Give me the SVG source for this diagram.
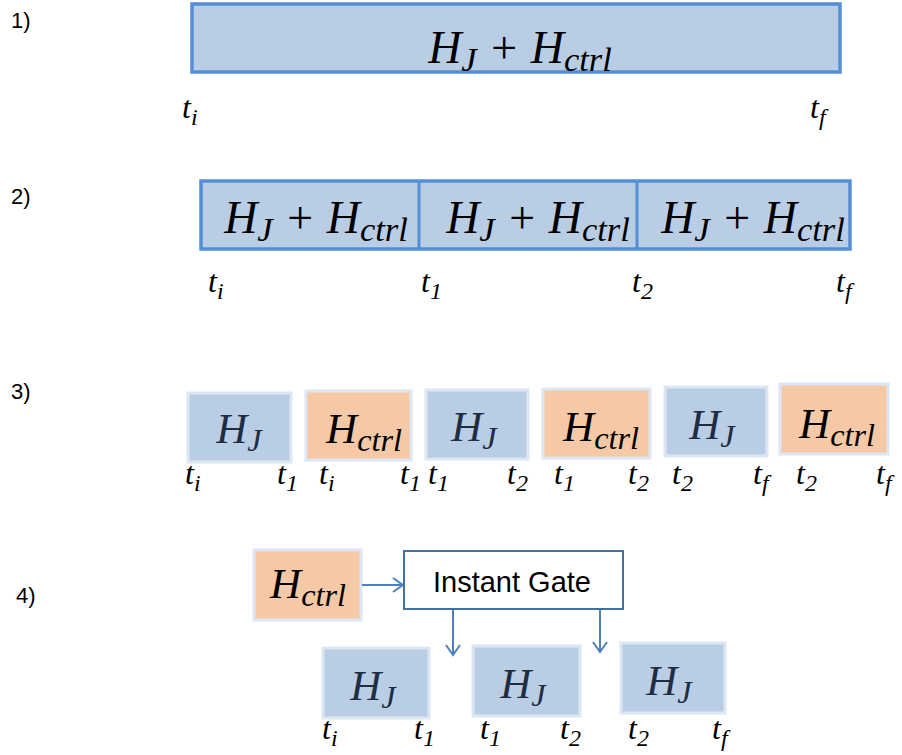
<svg xmlns="http://www.w3.org/2000/svg" width="902" height="755" viewBox="0 0 902 755">
<defs>
<style>
.lbl{font-family:"Liberation Sans",Arial,sans-serif;font-size:22px;fill:#000}
.m{font-family:"Liberation Serif","Times New Roman",serif;font-style:italic;fill:#000}
.big{font-size:46px}
.sm{font-size:43px}
.t{font-size:32px}
.sub{font-size:75%}
.dk{fill:#1e2d42}
.bar{fill:#b9cde5;stroke:#558ed5;stroke-width:3.5}
.bx{stroke:#dde7f3;stroke-width:3}
.blue{fill:#b9cde5}
.orng{fill:#f5c9a5}
.gate{fill:#fff;stroke:#41719c;stroke-width:2}
.gt{font-family:"Liberation Sans",Arial,sans-serif;font-size:29px;fill:#000}
.cn{stroke:#4f81bd;stroke-width:2;fill:none}
</style>
<marker id="ah" markerUnits="userSpaceOnUse" markerWidth="16" markerHeight="16" refX="13" refY="8" orient="auto">
<path d="M3,1 L13,8 L3,15" fill="none" stroke="#4f81bd" stroke-width="2"/>
</marker>
</defs>
<rect width="902" height="755" fill="#fff"/>

<text class="lbl" x="11" y="28">1)</text>
<text class="lbl" x="11" y="204">2)</text>
<text class="lbl" x="11" y="399">3)</text>
<text class="lbl" x="16" y="603">4)</text>

<g id="row1">
<rect class="bar" x="192" y="4" width="648" height="68"/>
<text class="m big" x="520" y="63" text-anchor="middle">H<tspan class="sub" dy="8">J</tspan><tspan dy="-8"> + H</tspan><tspan class="sub" dy="8">ctrl</tspan></text>
<text class="m t" x="182" y="118">t<tspan class="sub" dy="7">i</tspan></text>
<text class="m t" x="810" y="118">t<tspan class="sub" dy="7">f</tspan></text>
</g>

<g id="row2">
<rect class="bar" x="201" y="181" width="649" height="68"/>
<line x1="419" y1="181" x2="419" y2="249" stroke="#558ed5" stroke-width="3"/>
<line x1="637" y1="181" x2="637" y2="249" stroke="#558ed5" stroke-width="3"/>
<text class="m big" x="316" y="233" text-anchor="middle">H<tspan class="sub" dy="8">J</tspan><tspan dy="-8"> + H</tspan><tspan class="sub" dy="8">ctrl</tspan></text>
<text class="m big" x="538" y="233" text-anchor="middle">H<tspan class="sub" dy="8">J</tspan><tspan dy="-8"> + H</tspan><tspan class="sub" dy="8">ctrl</tspan></text>
<text class="m big" x="753" y="233" text-anchor="middle">H<tspan class="sub" dy="8">J</tspan><tspan dy="-8"> + H</tspan><tspan class="sub" dy="8">ctrl</tspan></text>
<text class="m t" x="208" y="292">t<tspan class="sub" dy="7">i</tspan></text>
<text class="m t" x="421" y="292">t<tspan class="sub" dy="7">1</tspan></text>
<text class="m t" x="632" y="292">t<tspan class="sub" dy="7">2</tspan></text>
<text class="m t" x="836" y="292">t<tspan class="sub" dy="7">f</tspan></text>
</g>

<g id="r3b1">
<rect class="bx blue" x="188" y="393" width="103" height="69"/>
<text class="m sm dk" x="239" y="443" text-anchor="middle">H<tspan class="sub" dy="8">J</tspan></text>
<text class="m t" x="185" y="484">t<tspan class="sub" dy="7">i</tspan></text>
<text class="m t" x="277" y="484">t<tspan class="sub" dy="7">1</tspan></text>
</g>
<g id="r3b2">
<rect class="bx orng" x="306" y="391" width="105" height="69"/>
<text class="m sm" x="364" y="443" text-anchor="middle">H<tspan class="sub" dy="8">ctrl</tspan></text>
<text class="m t" x="319" y="484">t<tspan class="sub" dy="7">i</tspan></text>
<text class="m t" x="400" y="484">t<tspan class="sub" dy="7">1</tspan></text>
</g>
<g id="r3b3">
<rect class="bx blue" x="426" y="390" width="102" height="69"/>
<text class="m sm dk" x="474" y="441" text-anchor="middle">H<tspan class="sub" dy="8">J</tspan></text>
<text class="m t" x="428" y="484">t<tspan class="sub" dy="7">1</tspan></text>
<text class="m t" x="507" y="484">t<tspan class="sub" dy="7">2</tspan></text>
</g>
<g id="r3b4">
<rect class="bx orng" x="543" y="389" width="107" height="69"/>
<text class="m sm" x="601" y="441" text-anchor="middle">H<tspan class="sub" dy="8">ctrl</tspan></text>
<text class="m t" x="554" y="484">t<tspan class="sub" dy="7">1</tspan></text>
<text class="m t" x="628" y="484">t<tspan class="sub" dy="7">2</tspan></text>
</g>
<g id="r3b5">
<rect class="bx blue" x="665" y="387" width="102" height="69"/>
<text class="m sm dk" x="712" y="439" text-anchor="middle">H<tspan class="sub" dy="8">J</tspan></text>
<text class="m t" x="672" y="484">t<tspan class="sub" dy="7">2</tspan></text>
<text class="m t" x="753" y="484">t<tspan class="sub" dy="7">f</tspan></text>
</g>
<g id="r3b6">
<rect class="bx orng" x="780" y="384" width="108" height="70"/>
<text class="m sm" x="837" y="438" text-anchor="middle">H<tspan class="sub" dy="8">ctrl</tspan></text>
<text class="m t" x="796" y="484">t<tspan class="sub" dy="7">2</tspan></text>
<text class="m t" x="876" y="484">t<tspan class="sub" dy="7">f</tspan></text>
</g>

<g id="r4ctrl">
<rect class="bx orng" x="254" y="550" width="107" height="70"/>
<text class="m sm" x="308" y="598" text-anchor="middle">H<tspan class="sub" dy="8">ctrl</tspan></text>
</g>
<g id="gate">
<rect class="gate" x="404" y="551" width="219" height="58"/>
<text class="gt" x="512" y="592" text-anchor="middle">Instant Gate</text>
</g>
<g id="r4b1">
<rect class="bx blue" x="323" y="648" width="106" height="70"/>
<text class="m sm dk" x="373" y="700" text-anchor="middle">H<tspan class="sub" dy="8">J</tspan></text>
<text class="m t" x="322" y="739">t<tspan class="sub" dy="7">i</tspan></text>
<text class="m t" x="414" y="739">t<tspan class="sub" dy="7">1</tspan></text>
</g>
<g id="r4b2">
<rect class="bx blue" x="473" y="646" width="107" height="70"/>
<text class="m sm dk" x="523" y="698" text-anchor="middle">H<tspan class="sub" dy="8">J</tspan></text>
<text class="m t" x="480" y="739">t<tspan class="sub" dy="7">1</tspan></text>
<text class="m t" x="560" y="739">t<tspan class="sub" dy="7">2</tspan></text>
</g>
<g id="r4b3">
<rect class="bx blue" x="621" y="643" width="104" height="70"/>
<text class="m sm dk" x="669" y="695" text-anchor="middle">H<tspan class="sub" dy="8">J</tspan></text>
<text class="m t" x="628" y="739">t<tspan class="sub" dy="7">2</tspan></text>
<text class="m t" x="712" y="739">t<tspan class="sub" dy="7">f</tspan></text>
</g>

<g id="connectors">
<line class="cn" x1="362" y1="585" x2="403" y2="585" marker-end="url(#ah)"/>
<line class="cn" x1="453" y1="610" x2="453" y2="655" marker-end="url(#ah)"/>
<line class="cn" x1="600" y1="610" x2="600" y2="652" marker-end="url(#ah)"/>
</g>
</svg>
